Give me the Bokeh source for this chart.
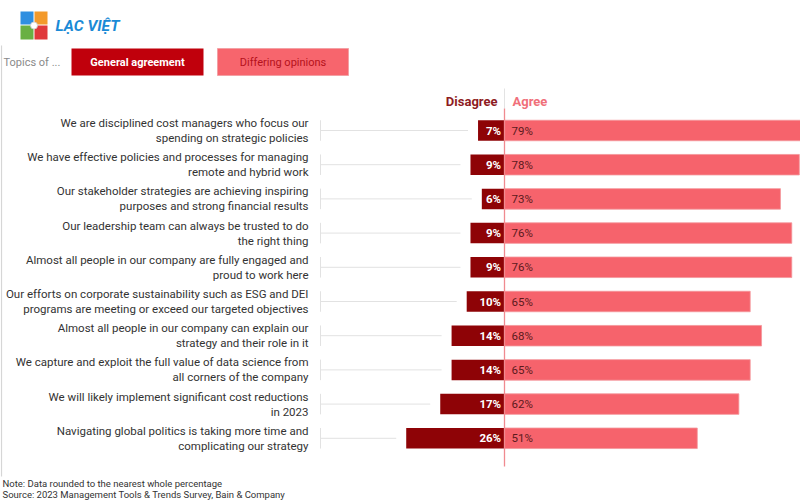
from bokeh.plotting import figure
from bokeh.models import Range1d
from bokeh.core.properties import value
from bokeh.embed import file_html
from bokeh.resources import INLINE

categories = [
    "We are disciplined cost managers who focus our\nspending on strategic policies",
    "We have effective policies and processes for managing\nremote and hybrid work",
    "Our stakeholder strategies are achieving inspiring\npurposes and strong financial results",
    "Our leadership team can always be trusted to do\nthe right thing",
    "Almost all people in our company are fully engaged and\nproud to work here",
    "Our efforts on corporate sustainability such as ESG and DEI\nprograms are meeting or exceed our targeted objectives",
    "Almost all people in our company can explain our\nstrategy and their role in it",
    "We capture and exploit the full value of data science from\nall corners of the company",
    "We will likely implement significant cost reductions\nin 2023",
    "Navigating global politics is taking more time and\ncomplicating our strategy",
]
disagree = [7, 9, 6, 9, 9, 10, 14, 14, 17, 26]
agree = [79, 78, 73, 76, 76, 65, 68, 65, 62, 51]

PX = 3.78      # reference pixels per percent
ROW = 34.2     # reference pixels per row


def dx(rx):
    return (rx - 504) / PX


def dy(ry):
    return (ry - 130) / ROW


W, H = 800, 500
p = figure(width=W, height=H, output_backend="svg", toolbar_location=None,
           x_range=Range1d(dx(0), dx(800)), y_range=Range1d(dy(500), dy(0)),
           min_border=0, outline_line_color=None)
p.axis.visible = False
p.grid.visible = False

FONT = value("Roboto")
rows = list(range(len(categories)))

DARK = "#8e0306"
PINK = "#f6636c"

# left border
p.segment(x0=[dx(1)], y0=[dy(45)], x1=[dx(1)], y1=[dy(476)], line_color="#d6d6d6", line_width=1.2)

# logo
p.quad(left=[dx(20), dx(34), dx(20), dx(34)], right=[dx(33), dx(47), dx(33), dx(47)],
       top=[dy(11), dy(11), dy(25), dy(25)], bottom=[dy(24), dy(24), dy(39), dy(39)],
       fill_color=["#2f8fe0", "#f39a2b", "#69b043", "#e0393b"], line_color=None)
p.scatter(x=[dx(33.5)], y=[dy(25)], size=7, fill_color="white", line_color="#cccccc", line_width=0.8)
p.text(x=[dx(55)], y=[dy(25.5)], text=["LẠC VIỆT"], text_font=FONT, text_font_style="bold italic",
       text_font_size="15.5px", text_color="#1a8ad6", text_baseline="middle")

# topics header
p.text(x=[dx(3)], y=[dy(62)], text=["Topics of ..."], text_font=FONT, text_font_size="11px",
       text_color="#8a8a8a", text_baseline="middle")
p.quad(left=[dx(71)], right=[dx(203)], top=[dy(48)], bottom=[dy(75)], fill_color="#c0000c", line_color=None)
p.text(x=[dx(137)], y=[dy(62)], text=["General agreement"], text_font=FONT, text_font_style="bold",
       text_font_size="11px", text_color="white", text_align="center", text_baseline="middle")
p.quad(left=[dx(217)], right=[dx(348)], top=[dy(48)], bottom=[dy(75)], fill_color="#f7656d",
       line_color="#f3a0a4", line_width=1)
p.text(x=[dx(282.5)], y=[dy(62)], text=["Differing opinions"], text_font=FONT,
       text_font_size="11px", text_color="#b5121b", text_align="center", text_baseline="middle")

# column headers
p.segment(x0=[0], y0=[dy(88)], x1=[0], y1=[dy(108)], line_color="#e3e3e3", line_width=1)
p.text(x=[dx(497)], y=[dy(101)], text=["Disagree"], text_font=FONT, text_font_style="bold",
       text_font_size="13px", text_color="#8e1b22", text_align="right", text_baseline="middle")
p.text(x=[dx(512)], y=[dy(101)], text=["Agree"], text_font=FONT, text_font_style="bold",
       text_font_size="13px", text_color="#f0707a", text_align="left", text_baseline="middle")

# leader lines
x_lead = dx(320)
p.segment(x0=[x_lead] * len(rows), y0=rows, x1=[-d - 10 / PX for d in disagree], y1=rows,
          line_color="#e2e2e2", line_width=1)
p.segment(x0=[x_lead] * len(rows), y0=[r - 0.3 for r in rows], x1=[x_lead] * len(rows),
          y1=[r + 0.3 for r in rows], line_color="#e2e2e2", line_width=1)

# bars
p.hbar(y=rows, left=[-d for d in disagree], right=[0] * len(rows), height=0.6,
       fill_color=DARK, line_color=None)
p.hbar(y=rows, left=[0] * len(rows), right=agree, height=0.6,
       fill_color=PINK, line_color="#f4959a", line_width=0.8)

# zero line
p.segment(x0=[0], y0=[dy(108)], x1=[0], y1=[dy(466)], line_color="#f08a90", line_width=1.3)

# category labels
p.text(x=[dx(308)] * len(rows), y=rows, text=categories, text_font=FONT, text_font_size="11.5px",
       text_color="#333333", text_align="right", text_baseline="middle", text_line_height=1.08)

# value labels
p.text(x=[-0.9] * len(rows), y=rows, text=[f"{d}%" for d in disagree], text_font=FONT,
       text_font_style="bold", text_font_size="11.5px", text_color="white",
       text_align="right", text_baseline="middle")
p.text(x=[dx(511)] * len(rows), y=rows, text=[f"{a}%" for a in agree], text_font=FONT,
       text_font_size="11.5px", text_color="#5c1a1c", text_align="left", text_baseline="middle")

# footer
p.text(x=[dx(2), dx(2)], y=[dy(483), dy(494)],
       text=["Note: Data rounded to the nearest whole percentage",
             "Source: 2023 Management Tools & Trends Survey, Bain & Company"],
       text_font=FONT, text_font_size="9.5px", text_color="#333333", text_baseline="middle")

open("out.html", "w").write(file_html(p, INLINE))
